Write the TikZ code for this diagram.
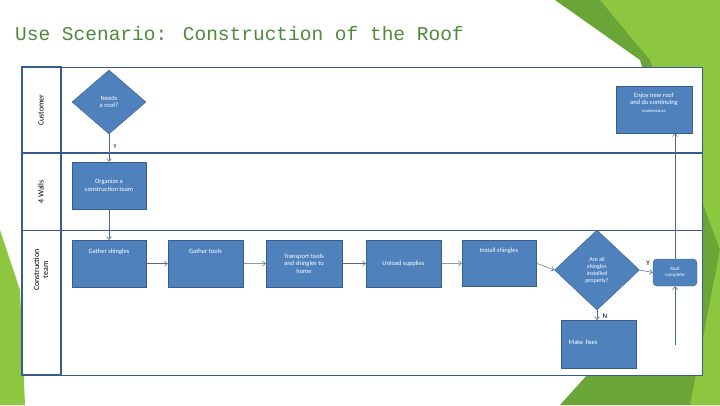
\documentclass[tikz,border=0pt]{standalone}
\usepackage{fontspec}
\setmainfont{Carlito}
\newfontfamily\ttlfont{Liberation Mono}
\usetikzlibrary{shapes.geometric,arrows.meta}
\definecolor{boxfill}{HTML}{4F81BD}
\definecolor{boxline}{HTML}{385D8A}
\definecolor{lgreen}{HTML}{8DC63F}
\definecolor{dgreen}{HTML}{6AA637}
\definecolor{ttl}{HTML}{4E8A3A}
\begin{document}
\begin{tikzpicture}[x=1pt,y=-1pt,
 proc/.style={draw=boxline,fill=boxfill,text=white,font=\fontsize{6.5}{7.5}\selectfont,align=center,inner sep=1pt},
 dec/.style={proc,diamond,aspect=1.1},
 conn/.style={draw=boxline!70!gray,-{Straight Barb[length=3pt,width=5pt]},line width=0.5pt},
 lane/.style={draw=boxline,line width=1.5pt},
 lbl/.style={font=\fontsize{8}{9}\selectfont,rotate=90,align=center}]
\useasboundingbox (0,0) rectangle (720,405);
\fill[white] (0,0) rectangle (720,405);
% decorations
\fill[dgreen] (555,0) -- (720,0) -- (720,405) -- (560,405) -- (700,250) -- (640,60) -- cycle;
\fill[lgreen] (600,0) -- (720,0) -- (720,405) -- (690,405) -- (720,250) -- (650,60) -- cycle;
\fill[lgreen] (0,230) -- (20,290) -- (25,405) -- (0,405) -- cycle;
\node[anchor=west,text=ttl,font=\ttlfont\fontsize{19.5}{22}\selectfont,inner sep=0pt] (title) at (15,34) {Use Scenario: Construction of the Roof};
% frame
\fill[white] (22,67) rectangle (702,375);
\draw[boxline,line width=0.8pt] (22,67) rectangle (702,375);
\draw[lane] (22,67) rectangle (61,375);
\draw[lane] (22,153) -- (702,153);
\draw[boxline,line width=1pt] (22,230) -- (702,230);
\node[lbl] (l1) at (41,110) {Customer};
\node[lbl] (l2) at (41,192) {4 Walls};
\node[lbl] (l3) at (41,270) {Construction\\team};
% nodes
\node[dec,minimum width=74pt,minimum height=64pt] (needs) at (109,102) {Needs\\a roof?};
\node[proc,minimum width=74pt,minimum height=47pt] (org) at (109,185.5) {Organize a\\construction team};
\node[proc,minimum width=74pt,minimum height=47pt,anchor=north] (g1) at (109,240) {Gather shingles\\[18pt]};
\node[proc,minimum width=75pt,minimum height=47pt,anchor=north] (g2) at (205.5,240) {Gather tools\\[18pt]};
\node[proc,minimum width=76pt,minimum height=47pt] (tr) at (304,263.5) {Transport tools\\and shingles to\\home};
\node[proc,minimum width=75pt,minimum height=47pt] (un) at (403.5,263.5) {Unload supplies};
\node[proc,minimum width=74pt,minimum height=46pt,anchor=north] (in) at (499,240) {Install shingles\\[18pt]};
\node[dec,minimum width=85pt,minimum height=80pt,font=\fontsize{6}{7}\selectfont] (ok) at (597,270) {Are all\\shingles\\installed\\properly?};
\node[proc,rounded corners=4pt,minimum width=44pt,minimum height=27pt,font=\fontsize{5}{6}\selectfont] (rc) at (675,272.5) {Roof\\complete};
\node[proc,minimum width=75pt,minimum height=48pt,anchor=north west,align=left,text width=60pt] (mf) at (561,320) {\\[-6pt]Make fixes\\[20pt]};
\node[proc,minimum width=76pt,minimum height=47pt] (en) at (654,109.5) {Enjoy new roof\\and do continuing\\{\fontsize{4.5}{5}\selectfont maintenance}\\[6pt]};
\coordinate (fx) at (675,345);
% connectors
\draw[conn] (needs.south) -- (org.north);
\node[font=\fontsize{6}{7}\selectfont] (yl) at (115,147) {Y};
\draw[conn] (org.south) -- (g1.north);
\draw[conn] (g1.east) -- (g2.west);
\draw[conn] (g2.east) -- (tr.west);
\draw[conn] (tr.east) -- (un.west);
\draw[conn] (un.east) -- (in.west);
\draw[conn] (in.east) -- (ok.west);
\draw[conn] (ok.east) -- (rc.west);
\node[font=\fontsize{7}{8}\selectfont] (yl2) at (648,263) {Y};
\draw[conn] (ok.south) -- (mf.north -| ok.south);
\node[font=\fontsize{7}{8}\selectfont] (nl) at (605,316) {N};
\draw[conn] (fx) -- (rc.south);
\draw[conn] (rc.north) -- (en.south -| rc.north);
\end{tikzpicture}
\end{document}
